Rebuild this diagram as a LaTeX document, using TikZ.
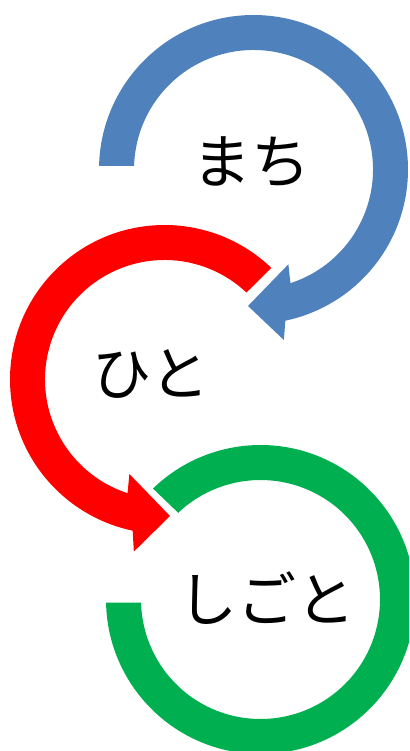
\documentclass[tikz,border=0pt]{standalone}
\usepackage{fontspec}
\newfontfamily\jpfont{Noto Sans CJK JP}
\usetikzlibrary{calc}
\definecolor{arcblue}{HTML}{4F81BD}
\definecolor{arcred}{HTML}{FF0000}
\definecolor{arcgreen}{HTML}{00B050}
\tikzset{
  label text/.style={font=\jpfont\fontsize{59}{59}\selectfont, inner sep=0pt, anchor=center},
}
\begin{document}
\begin{tikzpicture}[x=1pt,y=-1pt]
\useasboundingbox (0,0) rectangle (409,751);
\clip (0,0) rectangle (409,751);
\coordinate (B) at (253.5,169.5);
\coordinate (R) at (164.5,379.5);
\coordinate (G) at (260.5,599.5);
% blue arrow (clockwise over the top)
\fill[arcblue] ($(B)+(181.3:154.5)$) arc[start angle=181.3, end angle=438.1, radius=154.5]
  -- ($(B)+(79.9:173.2)$) -- ($(B)+(92.3:136.6)$) -- ($(B)+(69.8:101)$)
  -- ($(B)+(72:119.5)$) arc[start angle=432, end angle=181.7, radius=119.5] -- cycle;
% red arrow (counter-clockwise over the left)
\fill[arcred] ($(R)+(-46.3:154.5)$) arc[start angle=-46.3, end angle=-258.1, radius=154.5]
  -- ($(R)+(100.1:174.8)$) -- ($(R)+(87.7:136.6)$) -- ($(R)+(110.4:100.8)$)
  -- ($(R)+(108:119.5)$) arc[start angle=-252, end angle=-46.7, radius=119.5] -- cycle;
% green arc
\fill[arcgreen] ($(G)+(178.8:154.5)$) arc[start angle=178.8, end angle=-134.1, radius=154.5]
  -- ($(G)+(-133.5:119.5)$) arc[start angle=-133.5, end angle=178.5, radius=119.5] -- cycle;
\node[label text] (machi) at (251,162) {まち};
\node[label text] (hito) at (151,374) {ひと};
\node[label text] (shigoto) at (266.5,598) {しごと};
\end{tikzpicture}
\end{document}
